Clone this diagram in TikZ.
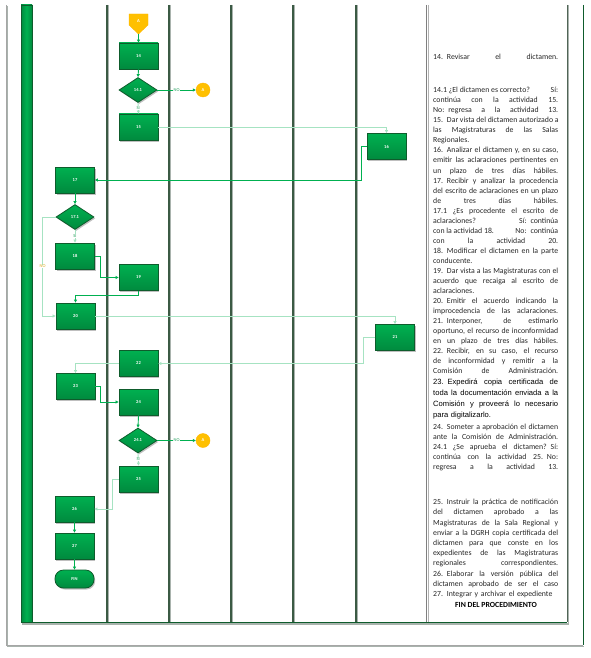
\documentclass[tikz,border=0pt]{standalone}
\usepackage{fontspec}
\setmainfont{Carlito}
\newfontfamily\arialfont{Liberation Sans}
\usetikzlibrary{shapes.geometric,shadows,arrows.meta}
\definecolor{verde}{HTML}{00B050}
\definecolor{verdeosc}{HTML}{008A3E}
\definecolor{borde}{HTML}{0E5C2C}
\definecolor{amarillo}{HTML}{FFC000}
\definecolor{carril}{HTML}{3B5A44}
\definecolor{sombra}{HTML}{A9B3AD}
\newcommand{\renj}[1]{\makebox[125pt][s]{\spaceskip=\fontdimen2\font plus 1fil\relax#1}}
\newcommand{\renl}[1]{\makebox[125pt][l]{#1}}
\tikzset{
  caja/.style={draw=borde,thick,top color=verde,bottom color=verdeosc,
    minimum width=39pt,minimum height=26pt,inner sep=0pt,text=white,
    font=\fontsize{4.5}{5}\selectfont\bfseries,
    drop shadow={shadow xshift=1.2pt,shadow yshift=-1.5pt,opacity=.5}},
  rombo/.style={caja,diamond,minimum width=38pt,minimum height=25pt},
  cierre/.style={caja,rounded corners=8.5pt,minimum height=18pt},
  conector/.style={fill=amarillo,draw=amarillo!85!orange,inner sep=0pt,text=white,
    font=\fontsize{4.5}{5}\selectfont\bfseries},
  flujo/.style={verde,line width=.9pt,->},
  tenue/.style={flujo,verde!35},
  etiq/.style={fill=white,inner sep=.4pt,font=\fontsize{4.5}{5}\selectfont,text=verde!70!gray},
  texto/.style={anchor=north west,inner sep=0pt,text width=125pt,text=black!85,
    execute at begin node=\rule{0pt}{6pt}}
}
\begin{document}
\begin{tikzpicture}[x=1pt,y=-1pt,>={Triangle[length=3pt,width=3pt]}]
 \useasboundingbox (0,0) rectangle (591,658);
 \draw[sombra,line width=1.5pt] (7.5,6) -- (7.5,646.5) -- (584,646.5);
 \draw[gray!70,line width=.8pt] (6,5) -- (6,645) -- (583,645);
 \draw[borde,line width=.9pt] (583,5) -- (583,645);
 \draw[sombra,line width=1.5pt] (22,624) -- (568.5,624) -- (568.5,5);
 \draw[borde,left color=verdeosc,right color=verdeosc,middle color=verde] (21,5) rectangle (32,622);
 \foreach \x in {107,169,231,293,356} {
  \draw[sombra,line width=1pt] (\x+1.3,5) -- (\x+1.3,622);
  \draw[carril,line width=1.1pt] (\x,5) -- (\x,622);
 }
 \draw[gray!60,line width=1pt] (428,5) -- (428,622);
 \draw[gray,line width=1pt] (426,5) -- (426,622);
 \draw[carril!70!gray,line width=.9pt] (567,5) -- (567,622);
 \draw[borde,line width=1pt] (21,622) -- (567,622);

 \coordinate (pA) at (138.5,14);
 \filldraw[conector] (pA) ++(-9.5,0) -- ++(19,0) -- ++(0,11) -- ++(-9.5,9) coordinate (puntaA) -- ++(-9.5,-9) -- cycle;
 \node[conector,fill=none,draw=none] (offA) at (138.5,21) {A};
 \node[caja] (n14) at (138.5,56) {14};
 \node[rombo] (d141) at (138,90) {14.1};
 \node[conector,circle,minimum size=14pt] (cA1) at (203,90) {A};
 \node[caja] (n15) at (138.5,127) {15};
 \node[caja] (n16) at (386.5,146.5) {16};
 \node[caja] (n17) at (75,180) {17};
 \node[rombo] (d171) at (75,217) {17.1};
 \node[caja] (n18) at (75,256) {18};
 \node[caja] (n19) at (138.5,277.5) {19};
 \node[caja] (n20) at (75.5,316) {20};
 \node[caja] (n21) at (395,337.5) {21};
 \node[caja] (n22) at (138.5,363.5) {22};
 \node[caja] (n23) at (75.5,386.5) {23};
 \node[caja] (n24) at (138.5,402) {24};
 \node[rombo] (d241) at (138,440.5) {24.1};
 \node[conector,circle,minimum size=14pt] (cA2) at (203,440.5) {A};
 \node[caja] (n25) at (138.5,479) {25};
 \node[caja] (n26) at (74.5,509) {26};
 \node[caja] (n27) at (74.5,546) {27};
 \node[cierre] (fin) at (74.5,579) {FIN};

 \draw[flujo] (puntaA) -- (n14.north);
 \draw[flujo] (n14.south) -- (d141.north);
 \draw[flujo] (d141.east) -- node[etiq] {NO} (cA1.west);
 \draw[tenue] (d141.south) -- node[etiq] {SI} (n15.north);
 \draw[tenue] (n15.east) -| (n16.north);
 \draw[flujo] (n16.west) -- ++(-5,0) |- (n17.east);
 \draw[flujo] (n17.south) -- (d171.north);
 \draw[tenue] (d171.south) -- node[etiq] {SI} (n18.north);
 \draw[tenue] (d171.west) -- ++(-13,0) |- node[etiq,pos=.25,text=amarillo!70!gray] {NO} (n20.west);
 \draw[flujo] (n18.east) -- ++(6,0) |- (n19.west);
 \draw[flujo] (n19.south) -- ++(0,5) -| (n20.north);
 \draw[tenue] (n20.east) -| (n21.north);
 \draw[tenue] (n21.west) -- ++(-12,0) |- (n22.east);
 \draw[tenue] (n22.west) -| (n23.north);
 \draw[flujo] (n23.east) -- ++(5,0) |- (n24.west);
 \draw[flujo] (n24.south) -- (d241.north);
 \draw[flujo] (d241.east) -- node[etiq] {NO} (cA2.west);
 \draw[tenue] (d241.south) -- node[etiq] {SI} (n25.north);
 \draw[tenue] (n25.west) -- ++(-6,0) |- (n26.east);
 \draw[flujo] (n26.south) -- (n27.north);
 \draw[flujo] (n27.south) -- (fin.north);

 \node[texto,font=\fontsize{7.8}{10.04}\selectfont] (t14) at (433,53.5) {\renj{14. Revisar el dictamen.}};
 \node[texto,font=\fontsize{7.8}{10.04}\selectfont] (t141) at (433,86.5) {%
  \renj{14.1 ¿El dictamen es correcto?\hfill Sí:}\\
  \renj{continúa con la actividad 15.}\\
  \renj{No: regresa a la actividad 13.}\\
  \renj{15. Dar vista del dictamen autorizado a}\\
  \renj{las Magistraturas de las Salas}\\
  \renl{Regionales.}\\
  \renj{16. Analizar el dictamen y, en su caso,}\\
  \renj{emitir las aclaraciones pertinentes en}\\
  \renj{un plazo de tres días hábiles.}\\
  \renj{17. Recibir y analizar la procedencia}\\
  \renj{del escrito de aclaraciones en un plazo}\\
  \renj{de tres días hábiles.}\\
  \renj{17.1 ¿Es procedente el escrito de}\\
  \renj{aclaraciones?\hfill Sí: continúa}\\
  \renj{con la actividad 18.\hfill No: continúa}\\
  \renj{con la actividad 20.}\\
  \renj{18. Modificar el dictamen en la parte}\\
  \renl{conducente.}\\
  \renj{19. Dar vista a las Magistraturas con el}\\
  \renj{acuerdo que recaiga al escrito de}\\
  \renl{aclaraciones.}\\
  \renj{20. Emitir el acuerdo indicando la}\\
  \renj{improcedencia de las aclaraciones.}\\
  \renj{21. Interponer, de estimarlo}\\
  \renj{oportuno, el recurso de inconformidad}\\
  \renj{en un plazo de tres días hábiles.}\\
  \renj{22. Recibir, en su caso, el recurso}\\
  \renj{de inconformidad y remitir a la}\\
  \renj{Comisión de Administración.}};
 \node[texto,text=black,font=\arialfont\fontsize{7.6}{11}\selectfont] (t23) at (433,378.5) {%
  \renj{23. Expedirá copia certificada de}\\
  \renj{toda la documentación enviada a la}\\
  \renj{Comisión y proveerá lo necesario}\\
  \renl{para digitalizarlo.}};
 \node[texto,font=\fontsize{7.8}{10}\selectfont] (t24) at (433,423.5) {%
  \renj{24. Someter a aprobación el dictamen}\\
  \renj{ante la Comisión de Administración.}\\
  \renj{24.1 ¿Se aprueba el dictamen? Sí:}\\
  \renj{continúa con la actividad 25. No:}\\
  \renj{regresa a la actividad 13.}};
 \node[texto,font=\fontsize{7.8}{10.2}\selectfont] (t25) at (433,498.5) {%
  \renj{25. Instruir la práctica de notificación}\\
  \renj{del dictamen aprobado a las}\\
  \renj{Magistraturas de la Sala Regional y}\\
  \renj{enviar a la DGRH copia certificada del}\\
  \renj{dictamen para que conste en los}\\
  \renj{expedientes de las Magistraturas}\\
  \renj{regionales correspondientes.}\\
  \renj{26. Elaborar la versión pública del}\\
  \renj{dictamen aprobado de ser el caso}\\
  \renl{27. Integrar y archivar el expediente}};
 \node[font=\fontsize{7.8}{9}\selectfont\bfseries,text=black,inner sep=0pt] (tfin) at (496,605) {FIN DEL PROCEDIMIENTO};
\end{tikzpicture}
\end{document}
